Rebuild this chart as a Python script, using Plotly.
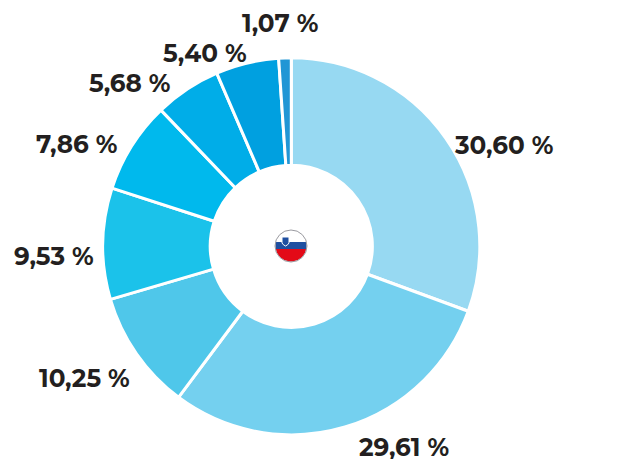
import math
import plotly.graph_objects as go

labels = ["A", "B", "C", "D", "E", "F", "G", "H"]
values = [30.60, 29.61, 10.25, 9.53, 7.86, 5.68, 5.40, 1.07]
texts = ["30,60 %", "29,61 %", "10,25 %", "9,53 %", "7,86 %", "5,68 %", "5,40 %", "1,07 %"]
colors = ["#97D9F2", "#74D0EF", "#4FC7EA", "#1BC2EA", "#00B9ED", "#00ADE8", "#00A0E0", "#2196D5"]

W, H = 638, 459
PAGE = 8  # the page's own margin around the figure
CX, CY, R = 291.3 - PAGE, 246.3 - PAGE, 188.5
# label centres as page pixels (layout only)
label_px = [(503, 145), (404, 447), (84, 378), (54, 256), (76, 144), (130, 83), (205, 53), (280, 23)]


def px(x):
    return x / W


def py(y):
    return 1 - y / H


fig = go.Figure()
fig.add_trace(go.Pie(
    labels=labels, values=values, textinfo="none",
    hole=0.43, sort=False, direction="clockwise", rotation=0,
    marker=dict(colors=colors, line=dict(color="#FFFFFF", width=3)),
    showlegend=False, automargin=False,
    domain=dict(x=[px(CX - R), px(CX + R)], y=[py(CY + R), py(CY - R)]),
))

for t, (lx, ly) in zip(texts, label_px):
    fig.add_annotation(
        text=t, x=px(lx - PAGE), y=py(ly - PAGE), xref="paper", yref="paper",
        xanchor="center", yanchor="middle", showarrow=False,
        font=dict(family="Montserrat, Inter, sans-serif", size=24.7, color="#231F20", weight="bold"),
    )


def band(y_top, y_bot, r=15.5, n=24):
    """Closed path for the part of a circle between two heights (pixels, y up)."""
    a0, a1 = math.asin(y_top / r), math.asin(y_bot / r)
    right = [(r * math.cos(a0 + (a1 - a0) * i / n), r * math.sin(a0 + (a1 - a0) * i / n)) for i in range(n + 1)]
    left = [(-x, y) for x, y in reversed(right)]
    return "M " + " L ".join(f"{x:.2f},{y:.2f}" for x, y in right + left) + " Z"


flag_x, flag_y = px(CX - 0.3), py(CY - 0.3)
pixel_shape = dict(xref="paper", yref="paper", xsizemode="pixel", ysizemode="pixel",
                   xanchor=flag_x, yanchor=flag_y)
for y_top, y_bot, col in [(15.5, 4, "#FFFFFF"), (4, -3, "#1F4FA0"), (-3, -15.5, "#E30A17")]:
    fig.add_shape(type="path", path=band(y_top, y_bot), fillcolor=col, line=dict(width=0), **pixel_shape)
# coat of arms
fig.add_shape(type="path", path="M -9,9 L -2,9 L -2,3 Q -3,1 -5.5,0 Q -8,1 -9,3 Z",
              fillcolor="#1F4FA0", line=dict(color="#FFFFFF", width=1), **pixel_shape)
# outline
fig.add_shape(type="circle", x0=-16, x1=16, y0=-16, y1=16,
              line=dict(color="#9A9AA0", width=1), fillcolor="rgba(0,0,0,0)", **pixel_shape)

fig.update_layout(width=W, height=H, margin=dict(l=0, r=0, t=0, b=0),
                  paper_bgcolor="white", plot_bgcolor="white")
fig.write_html("out.html")
